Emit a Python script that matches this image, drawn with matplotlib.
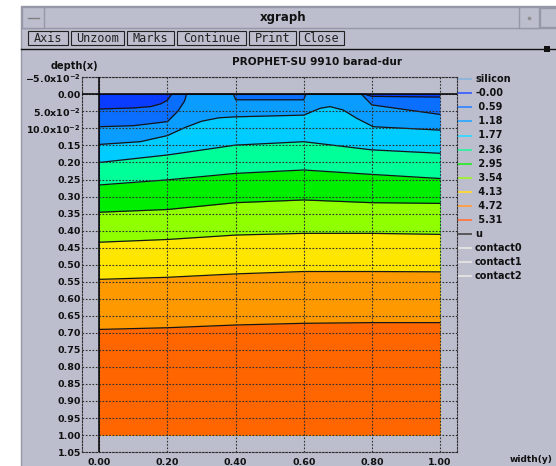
import numpy as np
import matplotlib.pyplot as plt
from matplotlib.patches import Rectangle

plt.rcParams['mathtext.default'] = 'bf'

# contour levels shown in the legend
levels = ['-0.00', ' 0.59', ' 1.18', ' 1.77', ' 2.36', ' 2.95', ' 3.54', ' 4.13', ' 4.72', ' 5.31']
band_colors = ['#0a3cff', '#0a6eff', '#0a9cff', '#00ccff', '#00ff99',
               '#00ee00', '#90ff00', '#ffe600', '#ff9900', '#ff6600']
level_line_colors = ['#4060ff', '#3a86ff', '#30a8ff', '#30d8ff', '#30f0a0',
                     '#30e830', '#a0f030', '#ffd830', '#ffa040', '#ff7840']

# contour boundaries (depth) between successive bands
b1_x = [0.0, 0.1, 0.15, 0.18, 0.2, 0.212, 0.78, 0.8, 1.0]
b1_d = [0.043, 0.040, 0.036, 0.028, 0.017, 0.0, 0.0, 0.006, 0.008]
b2_x = [0.0, 0.1, 0.2, 0.23, 0.25, 0.256, 0.394, 0.4, 0.6, 0.606, 0.77, 0.8, 0.9, 1.0]
b2_d = [0.095, 0.092, 0.08, 0.05, 0.02, 0.0, 0.0, 0.016, 0.016, 0.0, 0.0, 0.031, 0.045, 0.059]
b3_x = [0.0, 0.12, 0.2, 0.25, 0.3, 0.35, 0.4, 0.6, 0.648, 0.677, 0.716, 0.755, 0.804, 1.0]
b3_d = [0.147, 0.139, 0.121, 0.098, 0.079, 0.069, 0.066, 0.061, 0.041, 0.036, 0.046, 0.07, 0.095, 0.105]
b4_x = [0.0, 0.2, 0.4, 0.6, 0.8, 1.0]
b4_d = [0.200, 0.178, 0.149, 0.139, 0.163, 0.173]
b5_x = [0.0, 0.2, 0.4, 0.6, 0.8, 1.0]
b5_d = [0.266, 0.251, 0.232, 0.222, 0.235, 0.247]
b6_x = [0.0, 0.2, 0.4, 0.6, 0.8, 1.0]
b6_d = [0.346, 0.338, 0.318, 0.310, 0.318, 0.320]
b7_x = [0.0, 0.2, 0.4, 0.6, 0.8, 1.0]
b7_d = [0.434, 0.426, 0.413, 0.408, 0.408, 0.411]
b8_x = [0.0, 0.2, 0.4, 0.6, 0.8, 1.0]
b8_d = [0.543, 0.537, 0.527, 0.520, 0.520, 0.521]
b9_x = [0.0, 0.2, 0.4, 0.6, 0.8, 1.0]
b9_d = [0.690, 0.685, 0.677, 0.672, 0.670, 0.670]

bounds = [(b1_x, b1_d), (b2_x, b2_d), (b3_x, b3_d), (b4_x, b4_d), (b5_x, b5_d),
          (b6_x, b6_d), (b7_x, b7_d), (b8_x, b8_d), (b9_x, b9_d)]

legend_names = ['silicon'] + levels + ['u', 'contact0', 'contact1', 'contact2']
legend_colors = ['#8fb4dc'] + level_line_colors + ['#505050', '#e4e4e4', '#e4e4e4', '#e4e4e4']

x_ticks = [0.0, 0.2, 0.4, 0.6, 0.8, 1.0]
y_ticks = np.round(np.arange(-0.05, 1.051, 0.05), 2)
y_labels = ['\u22125.0x10$^{-2}$', '0.00', '5.0x10$^{-2}$', '10.0x10$^{-2}$'] + \
           ['%.2f' % v for v in y_ticks[4:]]

gray = '#bcbece'
W, H = 556, 466
fig = plt.figure(figsize=(W / 100, H / 100), dpi=100)
fig.patch.set_facecolor('white')

# window decoration, in pixel coordinates
ax0 = fig.add_axes([0, 0, 1, 1])
ax0.set_xlim(0, W)
ax0.set_ylim(H, 0)
ax0.axis('off')
ax0.add_patch(Rectangle((21, 6), 560, 480, fc=gray, ec='#9698a8', lw=1))
ax0.add_patch(Rectangle((22, 7), 560, 21, fc=gray, ec='#9698a8', lw=1))
ax0.add_patch(Rectangle((22, 7), 22, 21, fc=gray, ec='#9698a8', lw=1))
ax0.plot([28, 39], [18, 18], color='#808080', lw=1)
ax0.add_patch(Rectangle((519, 7), 20, 21, fc=gray, ec='#9698a8', lw=1))
ax0.add_patch(Rectangle((540, 8), 20, 19, fc=gray, ec='#9698a8', lw=1))
ax0.plot([529], [18], marker='s', ms=1.5, color='#909090')
ax0.text(283, 18, 'xgraph', ha='center', va='center', fontsize=8.5, fontweight='bold', color='#111111')

buttons = ['Axis', 'Unzoom', 'Marks', 'Continue', 'Print', 'Close']
btn_left = [28, 71, 127, 177, 249, 299]
btn_right = [68, 124, 174, 246, 296, 344]
for name, l, r in zip(buttons, btn_left, btn_right):
    ax0.add_patch(Rectangle((l, 31), r - l, 14, fc=gray, ec='#222222', lw=0.8))
    ax0.text((l + r) / 2, 38.5, name, ha='center', va='center', fontsize=8.6,
             family='DejaVu Sans Mono', color='#222222')
ax0.plot([21, W], [49, 49], color='#111111', lw=1)
ax0.add_patch(Rectangle((544, 46), 6, 6, fc='#111111', ec='none'))

ax0.text(317, 62, 'PROPHET-SU 9910 barad-dur', ha='center', va='center',
         fontsize=7.6, fontweight='bold', color='#111111')
ax0.text(74, 66, 'depth(x)', ha='center', va='center', fontsize=7,
         fontweight='bold', color='#111111')
ax0.text(510, 460, 'width(y)', ha='left', va='center', fontsize=6.5,
         fontweight='bold', color='#111111')

# legend
for i, (name, col) in enumerate(zip(legend_names, legend_colors)):
    yy = 79.3 + i * 14.05
    ax0.plot([457, 472], [yy, yy], color=col, lw=1.3, solid_capstyle='butt')
    ax0.text(475, yy, name, ha='left', va='center', fontsize=7,
             fontweight='bold', color='#111111')

# plot area
x0px, x1px = 82.3, 457.0
y0px, y1px = 77.3, 452.1
ax = fig.add_axes([x0px / W, 1 - y1px / H, (x1px - x0px) / W, (y1px - y0px) / H])
ax.set_facecolor(gray)
ax.set_xlim(-0.05, 1.05)
ax.set_ylim(1.05, -0.05)

ax.fill_between([0.0, 1.0], 0.0, 1.0, color=band_colors[0], lw=0, zorder=1)
for (bx, bd), col in zip(bounds, band_colors[1:]):
    ax.fill_between(bx, bd, 1.0, color=col, lw=0, zorder=1)
for bx, bd in bounds:
    ax.plot(bx, bd, color='#151515', lw=0.9, zorder=2)

ax.set_xticks(x_ticks)
ax.set_xticklabels(['%.2f' % v for v in x_ticks])
ax.set_yticks(y_ticks)
ax.set_yticklabels(y_labels)
ax.tick_params(length=0, labelsize=6.8, colors='#111111')
ax.tick_params(axis='y', pad=1)
ax.tick_params(axis='x', pad=4)
for lab in ax.get_xticklabels() + ax.get_yticklabels():
    lab.set_fontweight('bold')
ax.grid(True, color='#303030', lw=0.8, linestyle=(0, (1.5, 1.5)), zorder=3)
ax.set_axisbelow(False)
for sp in ax.spines.values():
    sp.set_linestyle((0, (1.5, 1.5)))
    sp.set_color('#303030')
    sp.set_linewidth(0.8)
ax.axhline(0.0, color='black', lw=1.1, zorder=4)
ax.axvline(0.0, color='black', lw=1.1, zorder=4)

fig.savefig('out.png', dpi=100)
